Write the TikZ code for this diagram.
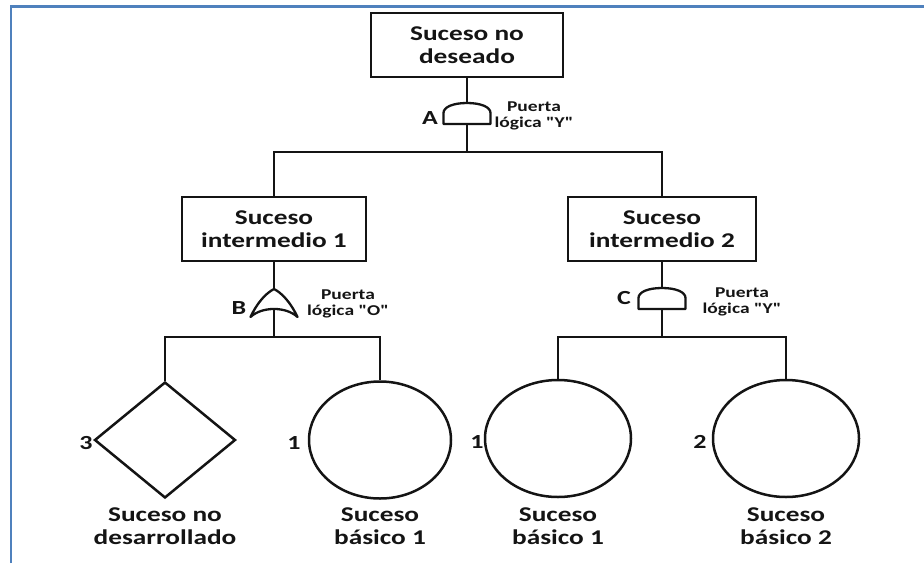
\documentclass[tikz,border=0pt]{standalone}
\usepackage{fontspec}
\setmainfont{Carlito}[FakeStretch=1.3, Ligatures=TeXOff]
\usetikzlibrary{shapes.geometric}
\definecolor{frameblue}{RGB}{79,129,189}
\definecolor{ink}{RGB}{20,20,20}
\tikzset{
  evbox/.style={draw=ink, line width=2.4pt, rectangle, inner sep=0pt,
    align=center, text=ink, font=\fontsize{21}{23.5}\selectfont\bfseries},
  basic/.style={draw=ink, line width=2.5pt, ellipse, inner sep=0pt,
    minimum width=146pt, minimum height=117pt},
  undev/.style={draw=ink, line width=2.5pt, diamond, inner sep=0pt,
    minimum width=141pt, minimum height=116pt},
  caption/.style={align=center, text=ink, font=\fontsize{21}{23}\selectfont\bfseries},
  tag/.style={text=ink, inner sep=0pt, font=\fontsize{20}{22}\selectfont\bfseries},
  gatenote/.style={align=center, text=ink, inner sep=0pt,
    font=\fontsize{15}{16.5}\selectfont\bfseries},
  wire/.style={draw=ink, line width=2.3pt},
  gateline/.style={draw=ink, line width=2.3pt, fill=white, line join=round},
  % AND gate: origin at the middle of the flat base
  andgate/.pic={
    \path[gateline] (-23.5,0) -- (-23.5,-11)
      .. controls (-23.5,-17) and (-14,-21) .. (0,-21)
      .. controls (14,-21) and (23.5,-17) .. (23.5,-11)
      -- (23.5,0) -- cycle;
    \coordinate (-in) at (0,-21);
    \coordinate (-out) at (0,0);
  },
  % OR gate: origin between the two lower tips
  orgate/.pic={
    \path[gateline] (-23.5,0)
      .. controls (-17,-14) and (-8,-24) .. (0,-28)
      .. controls (8,-24) and (17,-14) .. (23.5,0)
      .. controls (12,-10.7) and (-12,-10.7) .. cycle;
    \coordinate (-in) at (0,-28);
    \coordinate (-out) at (0,-8);
  },
}
\begin{document}
\begin{tikzpicture}[x=1pt, y=-1pt]
  \useasboundingbox (0,0) rectangle (924,563);
  % page frame
  \draw[frameblue, line width=2.6pt, line join=miter] (11,563) -- (11,6.3) -- (924,6.3);

  % events
  \node[evbox, minimum width=192pt, minimum height=64pt] (top) at (467,45) {Suceso no\\deseado};
  \node[evbox, minimum width=184pt, minimum height=64pt] (int1) at (274,229) {Suceso\\intermedio 1};
  \node[evbox, minimum width=188pt, minimum height=64pt] (int2) at (662,229) {Suceso\\intermedio 2};

  \node[undev] (dia) at (165,440) {};
  \node[basic, minimum width=142pt] (b1) at (380,440) {};
  \node[basic] (b2) at (558,438.5) {};
  \node[basic] (b3) at (786,438.5) {};

  % gates
  \pic (gA) at (467,124) {andgate};
  \pic (gB) at (274,317) {orgate};
  \pic (gC) at (662,309) {andgate};

  % gate letters and notes
  \node[tag] (lA) at (430,118) {A};
  \node[tag] (lB) at (239,308) {B};
  \node[tag] (lC) at (624,298) {C};
  \node[gatenote] (nA) at (534,116) {Puerta\\lógica "Y"};
  \node[gatenote] (nB) at (348,304) {Puerta\\lógica "O"};
  \node[gatenote] (nC) at (742,302) {Puerta\\lógica "Y"};

  % transfer numbers
  \node[tag] (t3) at (86,443) {3};
  \node[tag] (t1a) at (294,443) {1};
  \node[tag] (t1b) at (477,442) {1};
  \node[tag] (t2) at (700,442) {2};

  % captions under the bottom events
  \node[caption] (c0) at (165,526) {Suceso no\\desarrollado};
  \node[caption] (c1) at (380,526) {Suceso\\básico 1};
  \node[caption] (c2) at (558,526) {Suceso\\básico 1};
  \node[caption] (c3) at (786,526) {Suceso\\básico 2};

  % bus levels
  \coordinate (yA) at (0,152);
  \coordinate (yB) at (0,337);
  \coordinate (barA) at (gA-out |- yA);
  \coordinate (barB) at (gB-out |- yB);
  \coordinate (barC) at (gC-out |- yB);

  % connectors
  \draw[wire] (top.south) -- (gA-in);
  \draw[wire] (gA-out) -- (barA);
  \draw[wire] (int1.north) |- (barA) -| (int2.north);

  \draw[wire] (int1.south) -- (gB-in);
  \draw[wire] (gB-out) -- (barB);
  \draw[wire] (dia.north) |- (barB) -| (b1.north);

  \draw[wire] (int2.south) -- (gC-in);
  \draw[wire] (gC-out) -- (barC);
  \draw[wire] (b2.north) |- (barC) -| (b3.north);
\end{tikzpicture}
\end{document}
